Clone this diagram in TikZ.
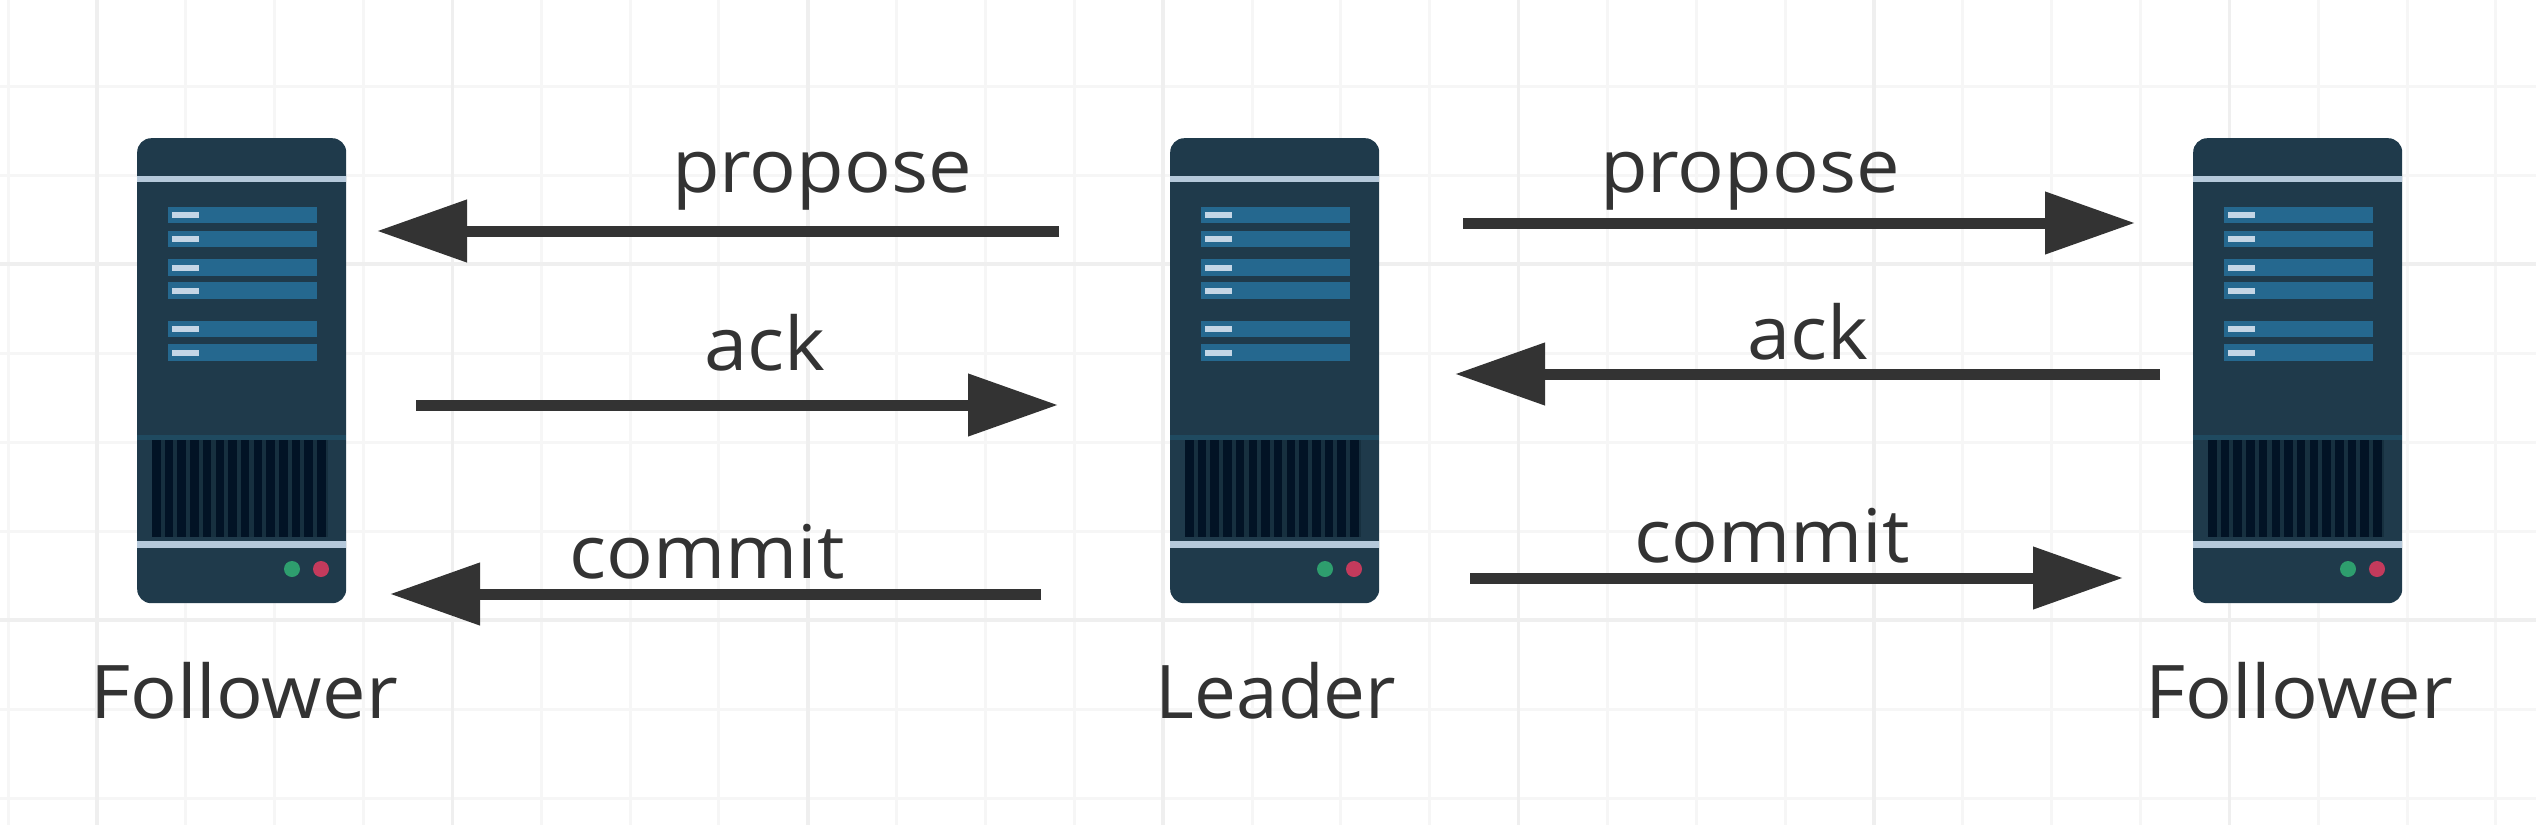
\documentclass[tikz,border=0pt]{standalone}
\usepackage{fontspec}
\setmainfont[FakeStretch=1.05]{Open Sans}
\usetikzlibrary{arrows.meta}
\definecolor{gridminor}{HTML}{F6F6F6}
\definecolor{gridmajor}{HTML}{EFEFEF}
\definecolor{srvbody}{HTML}{1F3A4B}
\definecolor{srvbar}{HTML}{25688F}
\definecolor{srvline}{HTML}{B4C8DA}
\definecolor{srvdash}{HTML}{C4D6E6}
\definecolor{srvslot}{HTML}{021325}
\definecolor{srvslotbg}{HTML}{17303F}
\definecolor{srvteal}{HTML}{1F4A60}
\definecolor{srvgreen}{HTML}{2E9E6E}
\definecolor{srvred}{HTML}{C43A5C}
\definecolor{ink}{HTML}{333333}
\tikzset{
  x=1pt,y=-1pt,
  gridline/.style={draw=gridminor,line width=3pt},
  gridbold/.style={draw=gridmajor,line width=3.5pt},
  flow/.style={draw=ink,line width=11pt,-{Triangle[length=90pt,width=60pt,fill=ink]}},
  lbl/.style={text=ink,font=\fontsize{74}{84}\selectfont,anchor=base,inner sep=0pt},
  srvrect/.style={fill=srvbody,rounded corners=14pt,minimum width=209pt,minimum height=465pt,inner sep=0pt,draw=none,anchor=north west},
  pics/server/.style={code={
    \node[srvrect] (-body) at (0,0) {};
    \fill[srvteal] (0,297) rectangle (209,302);
    \fill[srvslotbg] (15,302) rectangle (191,399);
    \foreach \k in {0,...,13} {\fill[srvslot] ({15+12.7*\k},302) rectangle ({15+12.7*\k+8.5},399);}
    \fill[srvline] (0,38) rectangle (209,44);
    \fill[srvline] (0,402.5) rectangle (209,409.5);
    \foreach \a/\b in {69/85,93/109,121/138,144/161,183/199,206/223} {
      \fill[srvbar] (31,\a) rectangle (180,\b);
      \fill[srvdash] (35,{(\a+\b)/2-3}) rectangle (62,{(\a+\b)/2+3});
    }
    \fill[srvgreen] (155,431) circle[radius=8];
    \fill[srvred] (184,431) circle[radius=8];
  }}
}
\begin{document}
\begin{tikzpicture}
\useasboundingbox (0,0) rectangle (2536,836);
\fill[white] (0,0) rectangle (2536,836);
\foreach \k in {0,2,3,4,6,7,8,10,11,12,14,15,16,18,19,20,22,23,24,26,27,28} {\draw[gridline] ({8.1+88.85*\k},0) -- ({8.1+88.85*\k},825);}
\foreach \y in {86,175,353,442,531,709,798} {\draw[gridline] (0,\y) -- (2536,\y);}
\foreach \k in {1,5,9,13,17,21,25} {\draw[gridbold] ({8.1+88.85*\k},0) -- ({8.1+88.85*\k},825);}
\foreach \y in {264,620} {\draw[gridbold] (0,\y) -- (2536,\y);}

\pic (fl) at (137,138) {server};
\pic (ld) at (1170,138) {server};
\pic (fr) at (2193,138) {server};

\node[lbl] (tfl) at (244,718) {Follower};
\node[lbl,xscale=0.96] (tld) at (1276,718) {Leader};
\node[lbl] (tfr) at (2299,718) {Follower};

\coordinate (a1s) at (1059,231); \coordinate (a1e) at (377,231);
\coordinate (a2s) at (416,405);  \coordinate (a2e) at (1058,405);
\coordinate (a3s) at (1041,594); \coordinate (a3e) at (390,594);
\coordinate (b1s) at (1463,223); \coordinate (b1e) at (2135,223);
\coordinate (b2s) at (2160,374); \coordinate (b2e) at (1455,374);
\coordinate (b3s) at (1470,578); \coordinate (b3e) at (2123,578);
\draw[flow] (a1s) -- (a1e);
\draw[flow] (a2s) -- (a2e);
\draw[flow] (a3s) -- (a3e);
\draw[flow] (b1s) -- (b1e);
\draw[flow] (b2s) -- (b2e);
\draw[flow] (b3s) -- (b3e);

\node[lbl] (l1) at (822,192) {propose};
\node[lbl] (l2) at (765,370) {ack};
\node[lbl] (l3) at (707,578) {commit};
\node[lbl] (r1) at (1750,192) {propose};
\node[lbl] (r2) at (1808,359) {ack};
\node[lbl] (r3) at (1772,562) {commit};
\end{tikzpicture}
\end{document}
